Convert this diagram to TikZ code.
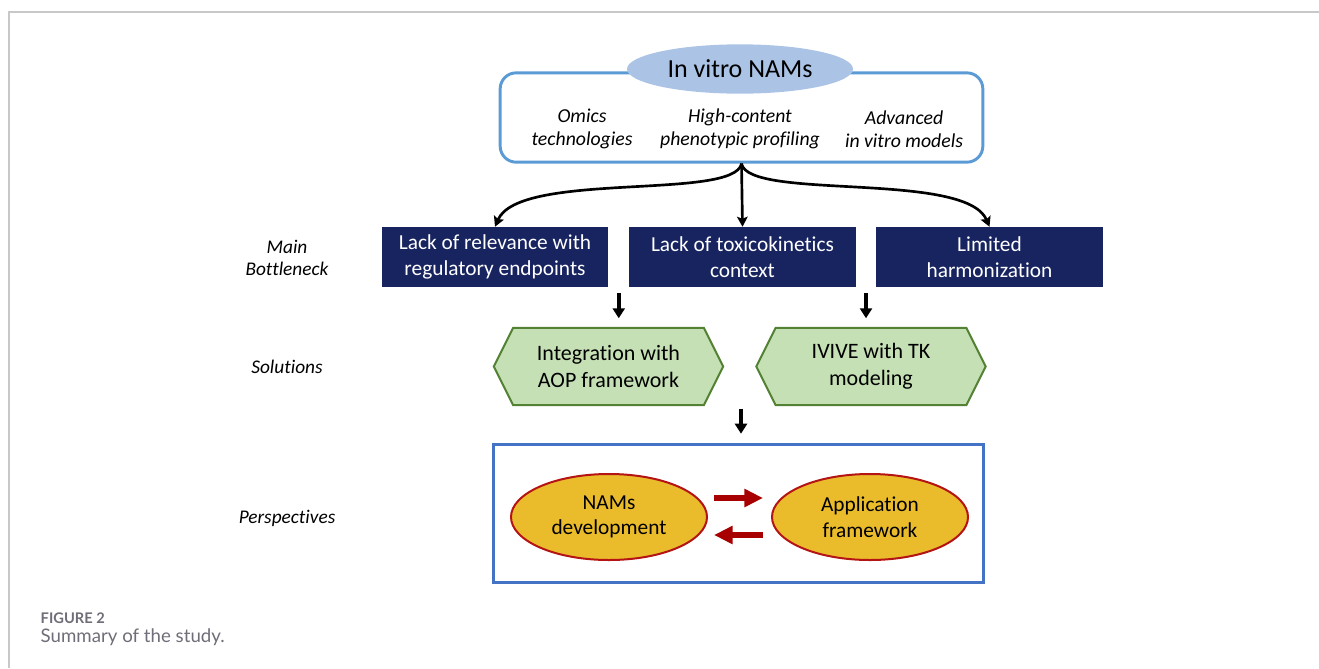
\documentclass[tikz,border=0pt]{standalone}
\usepackage{fontspec}
\setmainfont{Carlito}[Ligatures=NoCommon]
\newfontfamily\capfont{Lato}
\usetikzlibrary{arrows.meta,shapes.geometric,shapes.symbols,calc}

\definecolor{navyB}{RGB}{24,36,96}
\definecolor{skyL}{RGB}{171,196,230}
\definecolor{skyD}{RGB}{91,155,213}
\definecolor{leafL}{RGB}{197,224,180}
\definecolor{leafD}{RGB}{84,130,53}
\definecolor{goldF}{RGB}{234,188,44}
\definecolor{wineD}{RGB}{180,20,20}
\definecolor{wineA}{RGB}{168,0,0}
\definecolor{boxB}{RGB}{68,114,196}
\definecolor{frameG}{RGB}{200,200,200}
\definecolor{capG}{RGB}{110,110,120}

\tikzset{
  rowlabel/.style={font=\itshape\fontsize{14.5}{16.5}\selectfont, align=center},
  toolname/.style={font=\itshape\fontsize{14.8}{17.5}\selectfont, align=center},
  bottleneck/.style={fill=navyB, text=white, minimum width=170pt, minimum height=45pt,
    inner sep=0pt, align=center, font=\fontsize{16}{20}\selectfont},
  solution/.style={signal, signal to=west and east, signal pointer angle=127,
    draw=leafD, fill=leafL, line width=1.5pt, minimum width=172pt, minimum height=58pt,
    inner sep=0pt, align=center, font=\fontsize{16.5}{20}\selectfont},
  outlook/.style={ellipse, draw=wineD, fill=goldF, line width=1.5pt, minimum width=147pt,
    minimum height=64.5pt, inner sep=0pt, align=center, font=\fontsize{16}{19}\selectfont},
  link/.style={line width=2pt, -{Stealth[length=7.5pt,width=8pt,inset=1.5pt]}},
  down/.style={line width=3pt, -{Triangle[length=7.5pt,width=9pt]}},
  loop/.style={wineA, line width=5pt, -{Triangle[length=14pt,width=13pt]}}
}

\begin{document}
\begin{tikzpicture}[x=0.75pt,y=-0.75pt]
\useasboundingbox (0,0) rectangle (1319,668);
% frame of the figure
\draw[frameG, line width=1pt] (1319,12) -- (9,12) -- (9,668);

% in vitro NAMs
\node[draw=skyD, line width=2.2pt, rounded corners=12pt, minimum width=362pt,
  minimum height=67pt] (nams) at (741.5,117.5) {};
\node[ellipse, fill=skyL, minimum width=169.5pt, minimum height=37pt,
  font=\fontsize{19.5}{22}\selectfont] (title) at (740,69) {In vitro NAMs};
\node[toolname] (omics) at (582,129) {Omics\\technologies};
\node[toolname] (hcp) at (740,129) {High-content\\phenotypic profiling};
\node[toolname] (adv) at (904,129) {Advanced\\in vitro models};

% row labels
\node[rowlabel] (lbA) at (287,258) {Main\\Bottleneck};
\node[rowlabel] (lbB) at (287,367) {Solutions};
\node[rowlabel] (lbC) at (287,518) {Perspectives};

% bottlenecks
\node[bottleneck] (b1) at (495,257) {Lack of relevance with\\regulatory endpoints};
\node[bottleneck] (b2) at (742.5,257) {Lack of toxicokinetics\\context};
\node[bottleneck] (b3) at (989.5,257) {Limited\\harmonization};

\draw[link] (nams.south) .. controls ($(nams.south)+(-7,37)$) and ($(b1.north)+(24,-56)$) .. (b1.north);
\draw[link] (nams.south) -- (b2.north);
\draw[link] (nams.south) .. controls ($(nams.south)+(7,37)$) and ($(b3.north)+(-24,-56)$) .. (b3.north);

% solutions
\node[solution] (s1) at (608.5,366.5) {Integration with\\AOP framework};
\node[solution] (s2) at (871,366.5) {IVIVE with TK\\modeling};

\coordinate (g1) at ($(b1.south east)!.5!(b2.south west)+(0,6)$);
\coordinate (g2) at ($(b2.south east)!.5!(b3.south west)+(0,6)$);
\draw[down] (g1) -- ++(0,25);
\draw[down] (g2) -- ++(0,25);

% perspectives
\node[draw=boxB, line width=2.2pt, minimum width=368pt, minimum height=104pt] (persp) at (738.5,513.5) {};
\node[outlook] (e1) at (609,517) {NAMs\\development};
\node[outlook] (e2) at (870,517) {Application\\framework};
\draw[down] ($(persp.north)+(2.5,-34)$) -- ++(0,25);
\draw[loop] ($(e1.east)+(6,-19)$) -- ($(e2.west)+(-8,-19)$);
\draw[loop] ($(e2.west)+(-8,18)$) -- ($(e1.east)+(6,18)$);

% caption
\node[anchor=west, text=capG, font=\capfont\bfseries\fontsize{11}{12}\selectfont] (fig) at (36,618) {FIGURE 2};
\node[anchor=west, text=capG, font=\capfont\fontsize{14}{15}\selectfont] (cap) at (36,637) {Summary of the study.};
\end{tikzpicture}
\end{document}
